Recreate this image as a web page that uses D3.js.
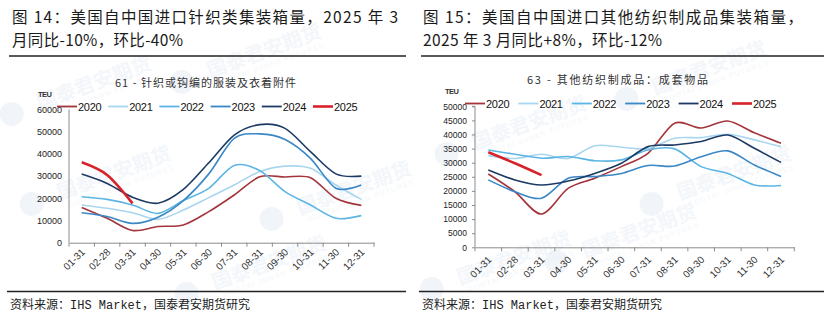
<!DOCTYPE html>
<html>
<head>
<meta charset="utf-8">
<script src="https://cdn.jsdelivr.net/npm/d3@7"></script>
<style>
  body { margin: 0; background: #fff; }
  svg { display: block; }
  .cjk { font-family: "Noto Sans CJK SC", "Liberation Sans", sans-serif; }
  .num { font-family: "Liberation Sans", Arial, sans-serif; }
</style>
</head>
<body>
<div id="chart"></div>
<script>
const months = ["01-31", "02-28", "03-31", "04-30", "05-31", "06-30",
  "07-31", "08-31", "09-30", "10-31", "11-30", "12-31"];
const years = ["2020", "2021", "2022", "2023", "2024", "2025"];
const yearColors = ["#a3353b", "#a9d6ef", "#5cb6e3", "#3a87c6", "#1c3a64", "#d7222a"];

// 61 - knitted apparel, TEU
const knit2020 = [15900, 11000, 5500, 7300, 8000, 14000, 21500, 29700, 29600, 29300, 20000, 16800];
const knit2021 = [17000, 15500, 13500, 10500, 14700, 20300, 26000, 32000, 34500, 33500, 26000, 19500];
const knit2022 = [20700, 19500, 17000, 13200, 19000, 24500, 34800, 32500, 23000, 17000, 11000, 12200];
const knit2023 = [13500, 11800, 8700, 11500, 19000, 31000, 47000, 49000, 46500, 38000, 24500, 26000];
const knit2024 = [30900, 26700, 20500, 17800, 24000, 36000, 48500, 53200, 51500, 41000, 31000, 30000];
const knit2025 = [36200, 30500, 17700];

// 63 - other made-up textile articles, TEU
const sets2020 = [26000, 19700, 11800, 20900, 24500, 28600, 33300, 44000, 42300, 44800, 40600, 36900];
const sets2021 = [32500, 31500, 33000, 31500, 36000, 35500, 35000, 38700, 38900, 40100, 38100, 35700];
const sets2022 = [34500, 33000, 31600, 32200, 30700, 31000, 34500, 34900, 28600, 26200, 22100, 21900];
const sets2023 = [23900, 19700, 17400, 24500, 25100, 26200, 29000, 28800, 32100, 34200, 29200, 25100];
const sets2024 = [27400, 23900, 22100, 23500, 26200, 29800, 35700, 36300, 37500, 39800, 35100, 30100];
const sets2025 = [33700, 29800, 25600];

const knitTicks = [0, 10000, 20000, 30000, 40000, 50000, 60000];
const setsTicks = [0, 5000, 10000, 15000, 20000, 25000, 30000, 35000, 40000, 45000, 50000];

const svg = d3.select("#chart").append("svg")
  .attr("width", 829)
  .attr("height", 321);

// faint company watermark tiles
const marks = [
  [40, 110], [210, 78], [60, 200], [215, 290], [300, 215],
  [475, 150], [585, 258], [655, 95], [680, 200], [460, 285]
];
marks.forEach(([mx, my]) => {
  const g = svg.append("g")
    .attr("transform", `translate(${mx},${my}) rotate(-20)`)
    .attr("opacity", 0.45);
  g.append("circle").attr("cx", -28).attr("cy", -6).attr("r", 12).attr("fill", "#e2ebf5");
  g.append("text").attr("class", "cjk").attr("font-size", 20).attr("font-weight", 700)
    .attr("fill", "#e6edf5").text("国泰君安期货");
  g.append("text").attr("class", "num").attr("font-size", 7).attr("y", 10).attr("x", 6)
    .attr("letter-spacing", 1.3).attr("fill", "#e6edf5").text("GUOTAI JUNAN FUTURES");
});

// headings and source notes
const heads = [
  { x: 12, y: 22.5, len: 386, t: "图 14：美国自中国进口针织类集装箱量，2025 年 3" },
  { x: 12, y: 46, len: 171, t: "月同比-10%，环比-40%" },
  { x: 423, y: 22.5, len: 380, t: "图 15：美国自中国进口其他纺织制成品集装箱量，" },
  { x: 423, y: 46, len: 239, t: "2025 年 3 月同比+8%，环比-12%" }
];
heads.forEach(h => {
  svg.append("text").attr("class", "cjk")
    .attr("x", h.x).attr("y", h.y)
    .attr("font-size", 15.5)
    .attr("fill", "#1a1a1a")
    .attr("textLength", h.len).attr("lengthAdjust", "spacing")
    .text(h.t);
});

[[9, 406], [421, 824]].forEach(([a, b]) => {
  svg.append("line").attr("x1", a).attr("x2", b).attr("y1", 56).attr("y2", 56)
    .attr("stroke", "#222").attr("stroke-width", 1.3);
  svg.append("line").attr("x1", a - 2).attr("x2", b).attr("y1", 291.5).attr("y2", 291.5)
    .attr("stroke", "#222").attr("stroke-width", 1.3);
  svg.append("text")
    .attr("x", a + 1).attr("y", 309)
    .attr("font-family", "'Liberation Mono', 'Noto Sans CJK SC', monospace")
    .attr("font-size", 12)
    .attr("fill", "#222")
    .text("资料来源：IHS Market，国泰君安期货研究");
});

function drawPanel(cfg) {
  const x = d3.scaleBand().domain(months).range([cfg.left, cfg.right]);
  const y = d3.scaleLinear().domain([0, cfg.max]).range([cfg.bottom, cfg.top]);
  const g = svg.append("g");

  g.append("text").attr("class", "cjk")
    .attr("x", cfg.titleX).attr("y", cfg.titleY)
    .attr("font-size", 11).attr("fill", "#333")
    .attr("textLength", 181).attr("lengthAdjust", "spacing")
    .text(cfg.title);

  g.append("text").attr("class", "num")
    .attr("x", cfg.teuX).attr("y", cfg.teuY)
    .attr("font-size", 7.5).attr("font-weight", 700).attr("fill", "#333")
    .attr("letter-spacing", -0.6)
    .text("TEU");

  // y axis
  const yAxis = g.append("g")
    .attr("transform", `translate(${cfg.left},0)`)
    .call(d3.axisLeft(y).tickValues(cfg.ticks).tickSize(cfg.yTick).tickPadding(cfg.yPad)
      .tickFormat(d3.format("d")));
  yAxis.select(".domain").attr("stroke", "#8c8c8c").attr("d", `M${-cfg.yTick},${cfg.top}H0V${cfg.bottom}`);
  yAxis.selectAll(".tick line").attr("stroke", "#8c8c8c");
  yAxis.selectAll(".tick text")
    .attr("class", "num").attr("font-size", cfg.yFont).attr("fill", "#222");

  // x axis with ticks on the band edges
  const xAxis = g.append("g")
    .attr("transform", `translate(0,${cfg.bottom})`)
    .call(d3.axisBottom(x).tickSize(0).tickPadding(0));
  xAxis.select(".domain").attr("stroke", "#8c8c8c");
  xAxis.selectAll(".tick text")
    .attr("class", "num")
    .attr("font-size", 10)
    .attr("fill", "#333")
    .attr("text-anchor", "end")
    .attr("dy", 0)
    .attr("transform", `translate(${cfg.labDx},${cfg.labDy}) rotate(-45)`);
  xAxis.selectAll(".edge")
    .data(d3.range(months.length + 1))
    .join("line")
    .attr("class", "edge")
    .attr("x1", i => cfg.left + i * x.step())
    .attr("x2", i => cfg.left + i * x.step())
    .attr("y1", 0).attr("y2", 4)
    .attr("stroke", "#8c8c8c");

  // series lines
  const line = d3.line()
    .x((d, i) => x(months[i]) + x.bandwidth() / 2)
    .y(d => y(d))
    .curve(d3.curveCardinal.tension(0.1));

  cfg.series.forEach((vals, k) => {
    g.append("path")
      .datum(vals)
      .attr("fill", "none")
      .attr("stroke", yearColors[k])
      .attr("stroke-width", k === 5 ? 2.6 : 1.6)
      .attr("d", line);
  });

  // legend
  const leg = g.selectAll(".leg")
    .data(years)
    .join("g")
    .attr("class", "leg")
    .attr("transform", (d, i) => `translate(${cfg.legX + i * cfg.legStep},${cfg.legY})`);
  leg.append("line")
    .attr("x1", 0).attr("x2", 20).attr("y1", 0).attr("y2", 0)
    .attr("stroke", (d, i) => yearColors[i])
    .attr("stroke-width", (d, i) => i === 5 ? 2.6 : 1.8);
  leg.append("text").attr("class", "num")
    .attr("x", 21).attr("y", 4)
    .attr("font-size", 11).attr("fill", "#111")
    .attr("letter-spacing", -0.3)
    .text(d => d);
}

drawPanel({
  left: 69, right: 374, top: 109.5, bottom: 242.7, max: 60000,
  ticks: knitTicks, yTick: 0, yPad: 7, yFont: 9,
  title: "61 - 针织或钩编的服装及衣着附件", titleX: 115, titleY: 86.5,
  teuX: 38, teuY: 97,
  labDx: 4, labDy: 10,
  legX: 57, legY: 106.5, legStep: 51.2,
  series: [knit2020, knit2021, knit2022, knit2023, knit2024, knit2025]
});

drawPanel({
  left: 475, right: 794.3, top: 106.3, bottom: 247.3, max: 50000,
  ticks: setsTicks, yTick: 3, yPad: 5, yFont: 8.5,
  title: "63 -  其他纺织制成品：成套物品", titleX: 527, titleY: 84,
  teuX: 445, teuY: 94,
  labDx: 4, labDy: 13,
  legX: 465, legY: 103.5, legStep: 53.4,
  series: [sets2020, sets2021, sets2022, sets2023, sets2024, sets2025]
});
</script>
</body>
</html>
